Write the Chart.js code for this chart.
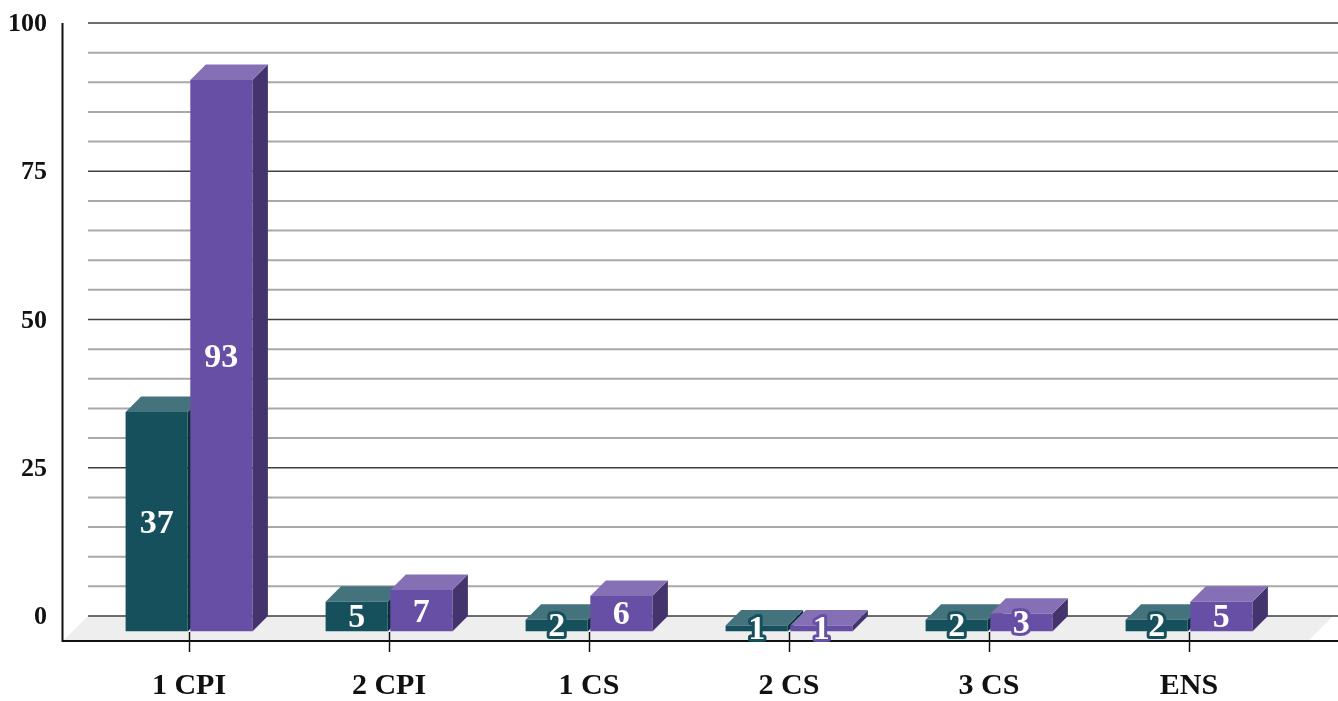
<!DOCTYPE html>
<html>
<head>
<meta charset="utf-8">
<style>
  html, body { margin: 0; padding: 0; background: #fff; overflow: hidden; }
  #wrap { width: 1338px; height: 701px; }
</style>
<script src="https://cdn.jsdelivr.net/npm/chart.js@4/dist/chart.umd.min.js"></script>
</head>
<body>
<div id="wrap"><canvas id="grafico"></canvas></div>
<script>
const categorias = ['1 CPI', '2 CPI', '1 CS', '2 CS', '3 CS', 'ENS'];
const serieVerde = [37, 5, 2, 1, 2, 2];
const serieMorada = [93, 7, 6, 1, 3, 5];

const fuente = '"Liberation Serif", serif';
const prof = 15.5; // fondo del efecto 3D

const coloresVerde = { frente: '#16505c', arriba: '#44737e', lado: '#0c3239' };
const coloresMorada = { frente: '#674fa5', arriba: '#8570b6', lado: '#44346e' };

function caras(ctx, barra, col) {
    let izq = barra.x - barra.width / 2;
    let der = barra.x + barra.width / 2;
    // lado derecho
    ctx.fillStyle = col.lado;
    ctx.beginPath();
    ctx.moveTo(der, barra.y);
    ctx.lineTo(der + prof, barra.y - prof);
    ctx.lineTo(der + prof, barra.base - prof);
    ctx.lineTo(der, barra.base);
    ctx.closePath();
    ctx.fill();
    // cara de arriba
    ctx.fillStyle = col.arriba;
    ctx.beginPath();
    ctx.moveTo(izq, barra.y);
    ctx.lineTo(izq + prof, barra.y - prof);
    ctx.lineTo(der + prof, barra.y - prof);
    ctx.lineTo(der, barra.y);
    ctx.closePath();
    ctx.fill();
}

const fondo3d = {
    id: 'fondo3d',
    beforeDraw(chart) {
        const ctx = chart.ctx;
        const y = chart.scales.y;
        const piso = y.getPixelForValue(0) - prof;
        const izq = 88;
        const der = chart.width;
        ctx.save();
        // piso
        ctx.fillStyle = '#eeeeee';
        ctx.beginPath();
        ctx.moveTo(izq, piso);
        ctx.lineTo(63, 641);
        ctx.lineTo(1308, 641);
        ctx.lineTo(1333, piso);
        ctx.closePath();
        ctx.fill();
        // lineas de la pared, primero las menores
        y.ticks.filter(t => t.value % 25 !== 0).forEach(t => {
            let py = y.getPixelForValue(t.value) - prof;
            ctx.strokeStyle = '#a9a9a9';
            ctx.lineWidth = 2;
            ctx.beginPath();
            ctx.moveTo(izq, py);
            ctx.lineTo(der, py);
            ctx.stroke();
        });
        y.ticks.filter(t => t.value % 25 === 0).forEach(t => {
            let py = y.getPixelForValue(t.value) - prof;
            ctx.strokeStyle = '#3f3f3f';
            ctx.lineWidth = 1.6;
            ctx.beginPath();
            ctx.moveTo(izq, py);
            ctx.lineTo(der, py);
            ctx.stroke();
        });
        // ejes
        ctx.strokeStyle = '#111';
        ctx.lineWidth = 2;
        ctx.beginPath();
        ctx.moveTo(62.5, y.getPixelForValue(100) - prof);
        ctx.lineTo(62.5, 641);
        ctx.lineTo(der, 641);
        ctx.stroke();
        ctx.restore();
    },
    beforeDatasetsDraw(chart) {
        const ctx = chart.ctx;
        ctx.save();
        chart.getDatasetMeta(0).data.forEach(b => caras(ctx, b, coloresVerde));
        chart.getDatasetMeta(1).data.forEach(b => caras(ctx, b, coloresMorada));
        ctx.restore();
    },
    afterDatasetsDraw(chart) {
        const ctx = chart.ctx;
        const series = [serieVerde, serieMorada];
        const colores = [coloresVerde, coloresMorada];
        ctx.save();
        ctx.font = 'bold 34px ' + fuente;
        ctx.textAlign = 'center';
        ctx.textBaseline = 'middle';
        ctx.lineJoin = 'round';
        series.forEach((valores, i) => {
            chart.getDatasetMeta(i).data.forEach((b, j) => {
                let cx = b.x;
                let cy = (b.y + b.base) / 2 + 2;
                ctx.strokeStyle = colores[i].frente;
                ctx.lineWidth = 6;
                ctx.strokeText(valores[j], cx, cy);
                ctx.fillStyle = '#ffffff';
                ctx.fillText(valores[j], cx, cy);
            });
        });
        ctx.restore();
    }
};

const ctx = document.getElementById('grafico').getContext('2d');

let chart = new Chart(ctx, {
    type: 'bar',
    data: {
        labels: categorias,
        datasets: [{
            label: 'Serie 1',
            data: serieVerde,
            backgroundColor: coloresVerde.frente,
            categoryPercentage: 0.647,
            barPercentage: 0.96
        }, {
            label: 'Serie 2',
            data: serieMorada,
            backgroundColor: coloresMorada.frente,
            categoryPercentage: 0.647,
            barPercentage: 0.96
        }]
    },
    plugins: [fondo3d],
    options: {
        responsive: true,
        maintainAspectRatio: false,
        animation: false,
        layout: { padding: { top: 38.5, right: 49, left: 0, bottom: 0 } },
        plugins: {
            legend: { display: false },
            tooltip: { enabled: false }
        },
        scales: {
            x: {
                afterFit: s => { s.height = 69.5; s.paddingLeft = 0; s.paddingRight = 0; },
                border: { display: false },
                grid: {
                    offset: false,
                    drawOnChartArea: false,
                    drawTicks: true,
                    tickLength: 20.5,
                    tickColor: '#111',
                    tickWidth: 1.5
                },
                ticks: {
                    color: '#111',
                    padding: 16,
                    maxRotation: 0,
                    font: { family: fuente, size: 30, weight: 'bold' }
                }
            },
            y: {
                min: 0,
                max: 100,
                afterFit: s => { s.width = 89; s.paddingTop = 0; s.paddingBottom = 0; },
                border: { display: false },
                grid: { display: false },
                ticks: {
                    stepSize: 5,
                    autoSkip: false,
                    padding: 34,
                    labelOffset: -prof + 1.5,
                    color: '#111',
                    font: { family: fuente, size: 26, weight: 'bold' },
                    callback: v => (v % 25 === 0 ? v : '')
                }
            }
        }
    }
});
</script>
</body>
</html>
